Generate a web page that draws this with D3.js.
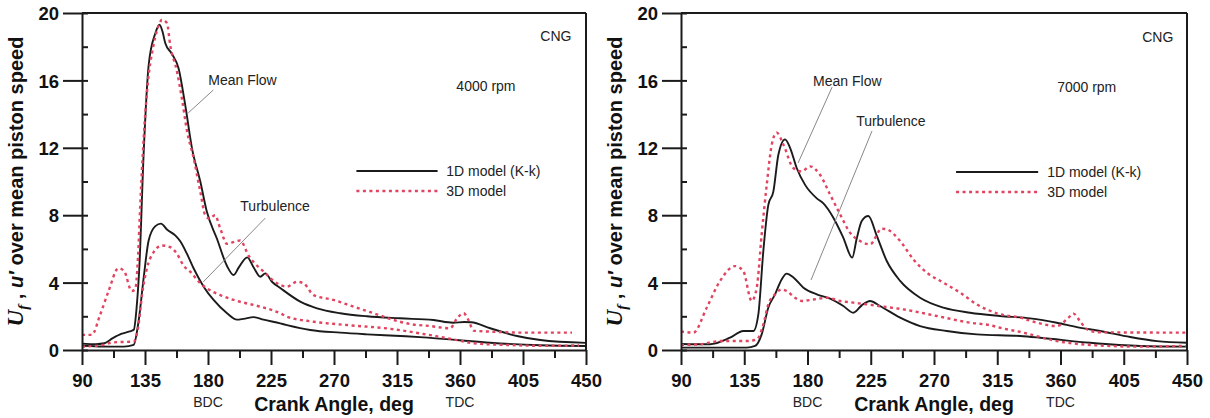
<!DOCTYPE html>
<html><head><meta charset="utf-8">
<script src="https://cdn.jsdelivr.net/npm/d3@7"></script>
<style>
html,body{margin:0;padding:0;background:#fff;}
svg{display:block;font-family:"Liberation Sans",Arial,sans-serif;}
</style></head>
<body>
<svg id="chart" width="1210" height="418"></svg>
<script>
// ---------- DATA ----------
const xTicksMajor = [90,135,180,225,270,315,360,405,450];
const xTicksMinor = [112.5,157.5,202.5,247.5,292.5,337.5,382.5,427.5];
const yTicksMajor = [0,4,8,12,16,20];
const yTicksMinor = [2,6,10,14,18];
const xMarkers = [{deg:180,label:"BDC"},{deg:360,label:"TDC"}];
const legendLabels = ["1D model (K-k)","3D model"];

// 4000 rpm  [crank angle, value]
const mean1D_4000 = [[90,0.38],[100,0.35],[106,0.4],[112,0.7],[118,0.95],[124,1.1],[127,1.2],[129,2.5],[131,5],[134,11.6],[137.6,16.9],[142.4,18.8],[145.4,19.3],[147.5,18.9],[149.5,18.2],[154,17.6],[159,16.7],[163.8,14.5],[168.5,12.0],[174.5,10.0],[179.2,8.2],[186.4,6.6],[193.5,5.0],[198.3,4.45],[202,4.9],[208,5.5],[212.6,4.9],[217.4,4.35],[221,4.55],[225.7,4.05],[231.6,3.68],[245.9,2.87],[257.9,2.47],[274.5,2.18],[293.6,2.0],[317,1.88],[341,1.78],[355,1.62],[363,1.66],[368,1.65],[381.6,1.29],[400.7,0.83],[417.4,0.59],[450,0.42]];
const mean3D_4000 = [[90,0.9],[97,0.9],[103,2.1],[109,3.5],[116,4.85],[120,4.7],[125.5,3.5],[128,3.6],[130,5.5],[131.6,8.6],[134,12.5],[136.4,15.3],[141.1,18.1],[145,19.3],[147.1,19.6],[150.7,19.4],[153,18.1],[157.9,16.5],[161.4,14.9],[165,13.0],[169.7,11.4],[174.5,9.4],[178,8.0],[181,7.8],[185,8.0],[188.8,7.2],[193.6,6.3],[198,6.4],[203,6.5],[209,5.6],[219.7,4.65],[229.3,3.96],[236.4,3.76],[243.6,4.05],[248.3,3.96],[255.4,3.26],[269.7,2.97],[284,2.57],[298.3,2.18],[310,1.85],[324.5,1.54],[338.8,1.42],[353,1.29],[357.9,1.88],[362.6,2.18],[366,1.78],[369.7,1.15],[381.6,1.09],[405,1.03],[440,1.03]];
const turb1D_4000 = [[90,0.25],[110,0.2],[120,0.2],[126.9,0.3],[130.4,1.7],[134,4.25],[137.6,6.5],[142.4,7.35],[146.4,7.5],[150.7,7.15],[156.6,6.8],[160.2,6.45],[165,5.7],[169.7,4.85],[176.9,3.76],[184,2.97],[193.6,2.18],[200.7,1.8],[205.4,1.85],[212.6,1.95],[219.7,1.8],[231.6,1.58],[236.4,1.48],[253,1.19],[274.5,1.03],[293.6,0.93],[317.4,0.83],[334,0.75],[357.9,0.59],[381.6,0.43],[417.4,0.28],[450,0.24]];
const turb3D_4000 = [[90,0.2],[105,0.3],[112,0.45],[127,0.5],[130.4,1.5],[132.9,3.3],[136.4,4.85],[141.1,5.8],[147.1,6.2],[153,6.1],[157.9,5.7],[162.6,5.0],[167.3,4.65],[174.5,3.96],[179.2,3.66],[188.8,3.26],[198.3,2.97],[212.6,2.67],[217.4,2.57],[231.6,2.18],[236.4,1.98],[255.4,1.68],[279.3,1.48],[310,1.26],[334,0.95],[357.9,0.59],[369.7,0.4],[393.6,0.3],[417,0.25],[445,0.27]];

// 7000 rpm
const mean1D_7000 = [[90,0.36],[110.6,0.34],[124.9,0.73],[134.3,1.13],[141.5,1.13],[145,2.1],[148.6,5.9],[152.1,8.6],[155.7,9.4],[159.3,11.6],[164,12.5],[167.6,12.0],[172.3,10.8],[178.3,9.8],[186.6,9.0],[191.3,8.7],[198.4,7.85],[205.5,6.66],[211.8,5.48],[215,6.6],[218.6,7.66],[223.3,7.95],[229.3,6.77],[236.4,5.28],[245.9,4.1],[260.1,3.1],[276.7,2.51],[295.7,2.21],[317,2.02],[338.4,1.88],[357.4,1.62],[371.6,1.36],[388.2,1.13],[409.6,0.77],[428.6,0.53],[450,0.43]];
const mean3D_7000 = [[90,1.1],[98.8,1.03],[108.3,2.51],[117.8,4.1],[128.4,4.98],[134.3,4.69],[140.3,2.91],[143.9,3.7],[147.4,6.87],[151,9.8],[154.6,12.2],[158.1,12.9],[162.8,12.2],[169.9,10.8],[175.9,10.6],[181.8,10.9],[188.9,10.4],[196,9.24],[203.2,8.05],[210.3,6.96],[217.4,6.47],[224.5,6.27],[232.8,7.2],[236.4,7.16],[245.9,6.47],[255.3,5.38],[264.9,4.59],[276.7,4.0],[288.6,3.4],[300.5,2.71],[317,2.12],[331.3,1.92],[340.7,1.68],[357.4,1.42],[365.7,1.92],[369.2,2.16],[373.5,1.76],[378.8,1.23],[388,1.05],[450,1.03]];
const turb1D_7000 = [[90,0.14],[136.8,0.14],[142.7,0.24],[147.4,0.93],[152.1,2.51],[156.9,3.3],[161.7,4.2],[165.2,4.53],[170,4.3],[177.1,3.7],[186.6,3.3],[196.1,3.05],[205.5,2.61],[212.6,2.21],[218.6,2.65],[224.5,2.91],[231.6,2.61],[245.9,1.92],[260.1,1.42],[279.1,1.13],[300.5,0.93],[331.3,0.83],[345.5,0.73],[381.1,0.43],[416.7,0.24],[450,0.2]];
const turb3D_7000 = [[90,0.3],[103.5,0.34],[117.8,0.53],[136.8,0.53],[143.9,0.63],[148.6,1.52],[152.1,2.71],[156.9,3.3],[161.7,3.6],[165.2,3.5],[171.1,3.1],[175.9,2.91],[184.2,3.0],[193.7,3.1],[203.2,2.91],[212.6,2.81],[222.2,2.71],[231.6,2.6],[248.2,2.41],[272,2.02],[295.7,1.62],[309.9,1.47],[317,1.32],[333.6,1.03],[357.4,0.53],[381.1,0.3],[416.7,0.2],[450,0.25]];

const panelTitles = ["4000 rpm","7000 rpm"];
const fuelLabel = "CNG";

// ---------- DRAW ----------
const svg = d3.select("#chart");
const black = "#1b1b1b", red = "#e2435f";

const panels = [
  {x0:82, x1:586, rpm:panelTitles[0], series:[mean1D_4000,mean3D_4000,turb1D_4000,turb3D_4000],
   ann:{cng:[417.4,18.34], rpm:[357.4,15.37], leg:[286,344,350.2,10.62,9.44],
        mf:{t:[180.2,15.73], a:[183.8,15.43], b:[165.9,14.07]},
        tb:{t:[203.1,8.25], a:[220.9,7.83], b:[176.6,4.04]}}},
  {x0:681, x1:1187, rpm:panelTitles[1], series:[mean1D_7000,mean3D_7000,turb1D_7000,turb3D_7000],
   ann:{cng:[418.1,18.28], rpm:[357.6,15.31], leg:[285.7,344.1,350.5,10.56,9.38],
        mf:{t:[184,15.67], a:[197.5,15.6], b:[173.3,11.1]},
        tb:{t:[214.6,13.3], a:[225.9,13.0], b:[182.5,4.15]}}}
];
const yTop = 13, yBot = 350;

panels.forEach(p => {
  const x = d3.scaleLinear().domain([90,450]).range([p.x0,p.x1]);
  const y = d3.scaleLinear().domain([0,20]).range([yBot,yTop]);
  const g = svg.append("g");

  // curves
  const line = d3.line().x(d=>x(d[0])).y(d=>y(d[1])).curve(d3.curveMonotoneX);
  p.series.forEach((s,i) => {
    const dashed = i % 2 === 1;
    g.append("path").datum(s).attr("d",line).attr("fill","none")
      .attr("stroke", dashed ? red : black)
      .attr("stroke-width", dashed ? 2.4 : 1.9)
      .attr("stroke-dasharray", dashed ? "3,3.5" : null)
      .attr("stroke-linejoin","round");
  });

  // x axis
  const xa = g.append("g").attr("transform",`translate(0,${yBot})`)
    .call(d3.axisBottom(x).tickValues(xTicksMajor).tickSize(15).tickSizeOuter(0).tickFormat(d3.format("d")));
  xa.select(".domain").attr("stroke-width",2).attr("stroke",black);
  xa.selectAll(".tick line").attr("stroke-width",2).attr("stroke",black);
  xa.selectAll(".tick text").attr("font-size",18.5).attr("font-weight","bold").attr("fill","#111")
    .attr("dy",null).attr("y",37).attr("font-family","Liberation Sans, Arial");
  const xm = g.append("g").attr("transform",`translate(0,${yBot})`)
    .call(d3.axisBottom(x).tickValues(xTicksMinor).tickSize(8).tickSizeOuter(0).tickFormat(""));
  xm.select(".domain").remove();
  xm.selectAll(".tick line").attr("stroke-width",2).attr("stroke",black);

  // y axis
  const ya = g.append("g").attr("transform",`translate(${p.x0},0)`)
    .call(d3.axisLeft(y).tickValues(yTicksMajor).tickSize(19).tickSizeOuter(0).tickFormat(d3.format("d")));
  ya.select(".domain").attr("stroke-width",2).attr("stroke",black);
  ya.selectAll(".tick line").attr("stroke-width",2).attr("stroke",black);
  ya.selectAll(".tick text").attr("font-size",18.5).attr("font-weight","bold").attr("fill","#111")
    .attr("x",-23).attr("dy","0.36em").attr("font-family","Liberation Sans, Arial");
  const ym = g.append("g").attr("transform",`translate(${p.x0},0)`)
    .call(d3.axisRight(y).tickValues(yTicksMinor.concat(yTicksMajor)).tickSize(6).tickSizeOuter(0).tickFormat(""));
  ym.select(".domain").remove();
  ym.selectAll(".tick line").attr("stroke-width",2).attr("stroke",black);

  // frame top/right
  g.append("line").attr("x1",x(90)).attr("x2",x(450)).attr("y1",y(20)).attr("y2",y(20))
    .attr("stroke",black).attr("stroke-width",2);
  g.append("line").attr("x1",x(450)).attr("x2",x(450)).attr("y1",y(20)).attr("y2",y(0))
    .attr("stroke",black).attr("stroke-width",2);

  // BDC / TDC
  xMarkers.forEach(m => {
    g.append("text").attr("x",x(m.deg)).attr("y",yBot+57).attr("text-anchor","middle")
      .attr("font-size",14).attr("fill","#222").text(m.label);
  });

  // axis titles
  g.append("text").attr("x",(p.x0+p.x1)/2).attr("y",yBot+61).attr("text-anchor","middle")
    .attr("font-size",19.5).attr("font-weight","bold").attr("fill","#111").text("Crank Angle, deg");
  const yt = g.append("text").attr("transform",`translate(${p.x0-59},${(yTop+yBot)/2}) rotate(-90)`)
    .attr("text-anchor","middle").attr("font-size",20).attr("font-weight","bold").attr("fill","#111");
  yt.append("tspan").attr("font-family","Liberation Serif, Times New Roman, serif").attr("font-style","italic").attr("font-size",23).text("U");
  yt.append("tspan").attr("font-family","Liberation Serif, Times New Roman, serif").attr("font-style","italic").attr("font-size",15).attr("dy",5).text("f");
  yt.append("tspan").attr("dy",-5).text(" , ");
  yt.append("tspan").attr("font-style","italic").text("u′");
  yt.append("tspan").text(" over mean piston speed");

  // annotations
  const a = p.ann;
  const txt = (pt,s) => g.append("text").attr("x",x(pt[0])).attr("y",y(pt[1]))
      .attr("font-size",14).attr("fill","#222").text(s);
  txt(a.cng, fuelLabel);
  txt(a.rpm, p.rpm);
  // legend
  g.append("line").attr("x1",x(a.leg[0])).attr("x2",x(a.leg[1])).attr("y1",y(a.leg[3])).attr("y2",y(a.leg[3]))
    .attr("stroke",black).attr("stroke-width",1.9);
  g.append("line").attr("x1",x(a.leg[0])).attr("x2",x(a.leg[1])).attr("y1",y(a.leg[4])).attr("y2",y(a.leg[4]))
    .attr("stroke",red).attr("stroke-width",2.4).attr("stroke-dasharray","3,3.5");
  g.append("text").attr("x",x(a.leg[2])).attr("y",y(a.leg[3])).attr("dy","0.35em")
    .attr("font-size",14).attr("fill","#222").text(legendLabels[0]);
  g.append("text").attr("x",x(a.leg[2])).attr("y",y(a.leg[4])).attr("dy","0.35em")
    .attr("font-size",14).attr("fill","#222").text(legendLabels[1]);
  // leader labels
  [[a.mf,"Mean Flow"],[a.tb,"Turbulence"]].forEach(([o,s]) => {
    txt(o.t, s);
    g.append("line").attr("x1",x(o.a[0])).attr("y1",y(o.a[1])).attr("x2",x(o.b[0])).attr("y2",y(o.b[1]))
      .attr("stroke","#888").attr("stroke-width",1);
  });
});
</script>
</body></html>
